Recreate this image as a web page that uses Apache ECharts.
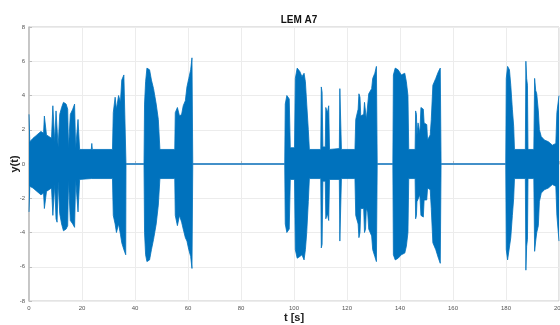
<!DOCTYPE html>
<html>
<head>
<meta charset="utf-8">
<script src="https://cdn.jsdelivr.net/npm/echarts@6/dist/echarts.min.js"></script>
<style>
  html, body { margin: 0; padding: 0; background: #fff; }
  #chart { width: 560px; height: 325px; }
</style>
</head>
<body>
<div id="chart"></div>
<script>
// envelope of the signal: time [s], upper and lower bound
const tSec = [
  0, 0.3, 1.5, 3, 4.5, 5.5, 5.8, 6.3, 6.6, 8.5, 9.0, 9.4, 9.7, 10.2, 10.6, 11.0, 11.6, 12.3, 13.0, 14.0,
  14.6, 14.9, 15.4, 15.6, 16.5, 17.2, 17.6, 18.3, 18.5, 18.8, 19.1, 23.5, 23.7, 23.9, 31.5, 31.8, 32.5, 33.0, 33.8, 34.5,
  35.0, 35.8, 36.5, 36.6,
  43.4, 43.6, 44.0, 44.5, 45.5, 46.2, 47.0, 48.0, 48.8, 49.4, 55.0, 55.2, 56.0, 56.8, 57.6, 58.2, 59.0, 59.6, 60.3, 61.0,
  61.5, 61.8,
  96.5, 96.7, 97.3, 98.2, 98.6, 100.2, 100.5, 101.2, 102.2, 103.0, 103.8, 104.3, 104.8, 105.4, 105.8, 110.1, 110.3, 110.6, 110.9, 111.8,
  112.0, 112.6, 113.1, 113.4, 117.1, 117.3, 117.6, 117.9, 123.0, 123.3, 124.2, 124.5, 124.9, 125.2, 126.3, 126.6, 127.0, 127.3, 127.8, 128.2,
  129.3, 129.7, 130.5, 131.1, 131.4,
  137.3, 137.5, 138.2, 139.3, 140.5, 141.8, 142.4, 143.0, 143.3, 145.7, 145.9, 146.2, 146.4, 146.8, 147.5, 147.9, 148.8, 149.1, 150.1, 150.4,
  151.4, 151.8, 152.4, 153.5, 154.5, 155.2, 155.5,
  179.9, 180.1, 180.6, 181.3, 181.8, 182.4, 182.9, 183.2, 187.3, 187.5, 187.8, 188.1, 188.3, 190.5, 190.8, 191.2, 191.6, 192.2, 192.6, 193.3,
  194.5, 196.0, 197.5, 198.8, 199.2, 200.0
];
const yUpper = [
  2.9, 1.3, 1.5, 1.7, 1.9, 1.8, 2.8, 2.8, 1.7, 1.5, 3.4, 3.3, 1.3, 3.1, 3.0, 1.0, 2.9, 3.3, 3.6, 3.5,
  3.2, 0.9, 0.9, 2.9, 3.2, 3.5, 0.9, 0.9, 2.6, 2.6, 0.85, 0.85, 1.2, 0.85, 0.85, 3.0, 3.9, 3.2, 4.0, 3.6,
  4.9, 5.2, 5.2, 0,
  0, 3.5, 4.8, 5.6, 5.5, 4.9, 4.4, 3.5, 2.6, 0.85, 0.85, 3.0, 3.3, 2.8, 2.9, 3.4, 3.7, 4.5, 5.0, 5.5,
  6.2, 0,
  0, 3.5, 4.0, 3.8, 0.95, 0.95, 5.0, 5.6, 5.4, 5.1, 5.3, 4.8, 3.5, 2.0, 0.85, 0.85, 4.5, 4.2, 1.0, 1.0,
  3.3, 3.0, 3.4, 0.85, 0.9, 4.4, 4.4, 0.85, 0.85, 2.6, 3.2, 4.1, 3.9, 2.8, 2.9, 3.6, 3.5, 2.6, 2.7, 4.1,
  4.4, 5.0, 5.3, 5.7, 0,
  0, 5.2, 5.6, 5.5, 5.2, 5.3, 4.8, 4.0, 0.85, 0.85, 3.1, 2.9, 1.7, 2.4, 1.8, 3.3, 3.2, 2.4, 2.3, 1.4,
  1.7, 2.6, 4.6, 5.0, 5.4, 5.6, 0,
  0, 5.0, 5.7, 5.5, 4.6, 3.2, 2.2, 0.85, 0.85, 6.0, 5.0, 4.6, 0.85, 0.85, 5.0, 4.3, 4.1, 3.1, 2.0, 1.6,
  1.4, 1.3, 1.1, 1.2, 3.0, 4.0
];
const yLower = [
  -2.8, -1.3, -1.4, -1.6, -1.8, -1.7, -2.6, -2.6, -1.6, -1.4, -3.0, -3.0, -1.2, -3.2, -3.4, -1.0, -2.9, -3.5, -3.9, -3.8,
  -3.6, -0.9, -0.9, -3.3, -3.5, -3.7, -0.9, -0.9, -2.8, -2.7, -0.9, -0.85, -0.9, -0.85, -0.85, -3.0, -3.5, -4.0, -3.5, -4.1,
  -4.6, -5.0, -5.3, 0,
  0, -4.0, -5.3, -5.7, -5.6, -5.0, -4.4, -3.5, -2.4, -0.85, -0.85, -3.0, -3.6, -3.0, -3.4, -3.8, -4.3, -4.5, -5.0, -5.4,
  -6.1, 0,
  0, -3.5, -4.0, -3.8, -0.9, -0.9, -5.0, -5.5, -5.4, -5.3, -5.6, -5.0, -4.0, -2.2, -0.85, -0.85, -4.9, -4.7, -1.0, -1.0,
  -3.2, -2.9, -3.3, -0.9, -0.9, -4.5, -4.5, -0.85, -0.85, -3.0, -3.5, -4.3, -4.0, -2.6, -2.6, -4.0, -3.8, -2.6, -2.8, -3.8,
  -4.2, -5.0, -5.4, -5.7, 0,
  0, -5.3, -5.6, -5.5, -5.3, -5.2, -4.8, -4.0, -0.85, -0.85, -3.2, -3.0, -2.2, -2.3, -1.8, -3.0, -3.1, -2.1, -2.1, -1.4,
  -1.5, -2.6, -4.6, -5.0, -5.5, -5.8, 0,
  0, -5.0, -5.6, -5.5, -4.3, -3.0, -2.0, -0.85, -0.85, -6.2, -4.8, -4.4, -0.85, -0.85, -5.1, -4.5, -4.0, -3.6, -2.2, -1.7,
  -1.5, -1.4, -1.2, -1.3, -3.0, -4.5
];

// silent gaps between the bursts: the signal sits on zero
const gapT = [36.6, 43.4, 61.8, 96.5, 131.4, 137.3, 155.5, 179.9];

const upperData = tSec.map((t, i) => [t, yUpper[i]]);
const lowerData = tSec.map((t, i) => [t, yLower[i]]);
const gapData = [];
for (let i = 0; i < gapT.length; i += 2) {
  gapData.push([gapT[i], 0], [gapT[i + 1], 0], [gapT[i + 1], null]);
}

const blue = '#0072BD';
const nameFont = { fontFamily: 'Liberation Sans', fontSize: 11, fontWeight: 'bold', color: '#222' };
const chart = echarts.init(document.getElementById('chart'));
chart.setOption({
  animation: false,
  title: {
    text: 'LEM A7',
    left: 294,
    top: 10,
    textAlign: 'center',
    textStyle: { fontFamily: 'Liberation Sans', fontSize: 10, fontWeight: 'bold', color: '#111' }
  },
  grid: {
    left: 29,
    right: 1,
    top: 27,
    bottom: 24,
    outerBoundsMode: 'none',
    show: true,
    borderColor: '#c8c8c8',
    borderWidth: 1
  },
  xAxis: {
    type: 'value',
    min: 0,
    max: 200,
    interval: 20,
    name: 't [s]',
    nameLocation: 'middle',
    nameGap: 11,
    nameMoveOverlap: false,
    nameTextStyle: nameFont,
    axisLine: { show: true, lineStyle: { color: '#bdbdbd', width: 1.5 } },
    axisTick: { show: true, inside: true, length: 3, lineStyle: { color: '#bdbdbd' } },
    axisLabel: { fontFamily: 'Liberation Sans', fontSize: 6, color: '#555', margin: 4 },
    splitLine: { show: true, lineStyle: { color: '#ececec', width: 1 } }
  },
  yAxis: {
    type: 'value',
    min: -8,
    max: 8,
    interval: 2,
    name: 'y(t)',
    nameLocation: 'middle',
    nameGap: 9,
    nameMoveOverlap: false,
    nameTextStyle: nameFont,
    axisLine: { show: true, lineStyle: { color: '#bdbdbd', width: 1.5 } },
    axisTick: { show: true, inside: true, length: 3, lineStyle: { color: '#bdbdbd' } },
    axisLabel: { fontFamily: 'Liberation Sans', fontSize: 6, color: '#555', margin: 4 },
    splitLine: { show: true, lineStyle: { color: '#ececec', width: 1 } }
  },
  series: [
    {
      type: 'line',
      data: upperData,
      showSymbol: false,
      lineStyle: { color: blue, width: 0.8 },
      areaStyle: { color: blue, opacity: 1 },
      silent: true
    },
    {
      type: 'line',
      data: lowerData,
      showSymbol: false,
      lineStyle: { color: blue, width: 0.8 },
      areaStyle: { color: blue, opacity: 1 },
      silent: true
    },
    {
      type: 'line',
      data: gapData,
      showSymbol: false,
      connectNulls: false,
      lineStyle: { color: '#3d8fd0', width: 1 },
      silent: true
    }
  ]
});
</script>
</body>
</html>
